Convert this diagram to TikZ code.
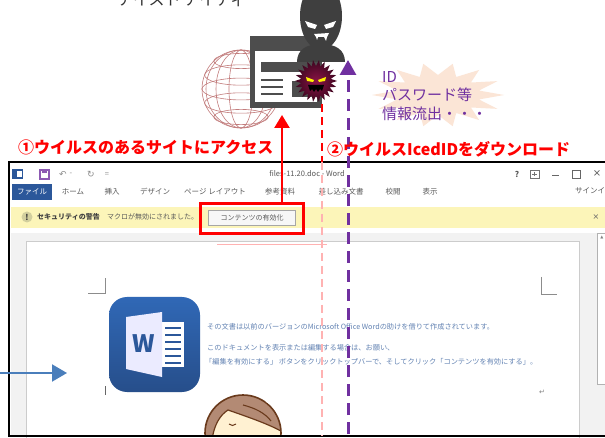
\documentclass[tikz,border=0pt]{standalone}
\usepackage{fontspec}
\setmainfont{Noto Sans CJK JP}
\newfontfamily\symfont{DejaVu Sans}
\usetikzlibrary{arrows.meta}

\definecolor{alertred}{HTML}{FF0000}
\definecolor{leakpurple}{HTML}{7030A0}
\definecolor{framegray}{HTML}{4D4D4D}
\definecolor{hackgray}{HTML}{3F3F3F}
\definecolor{globered}{HTML}{C27C7C}
\definecolor{burst}{HTML}{FBE5D6}
\definecolor{wordblue}{HTML}{2B579A}
\definecolor{wordtop}{HTML}{3068B6}
\definecolor{docblue}{HTML}{6383B3}
\definecolor{barpale}{HTML}{FCF5B9}
\definecolor{hair}{HTML}{B38A74}
\definecolor{skin}{HTML}{FFF1D2}
\definecolor{lineart}{HTML}{6A3A1C}
\definecolor{pointer}{HTML}{4A7EBB}
\definecolor{virus}{HTML}{3E0620}
\definecolor{virusmid}{HTML}{8A1446}

\begin{document}
\begin{tikzpicture}[x=1pt, y=-1pt,
  steptext/.style={font=\fontsize{16}{18}\selectfont\bfseries, text=alertred, inner sep=0pt, anchor=west},
  uitext/.style={font=\fontsize{7.5}{9}\selectfont, text=black!65, inner sep=0pt},
  doctext/.style={font=\fontsize{7.2}{8}\selectfont, text=docblue, inner sep=0pt, anchor=west},
  accessline/.style={alertred, line width=2.5pt, -{Triangle[width=15pt,length=13pt]}},
  dlline/.style={alertred, line width=2.2pt, dash pattern=on 8pt off 5pt},
  dlfaint/.style={dlline, draw=red!30},
  leakline/.style={leakpurple, line width=3pt, dash pattern=on 12pt off 7pt, -{Triangle[width=16pt,length=15pt]}},
  globeline/.style={globered, line width=0.6pt},
]

\useasboundingbox (0,0) rectangle (605,438);
\fill[white] (0,0) rectangle (605,438);

% company name, cut by the top edge
\node[font=\fontsize{16}{18}\selectfont, text=black!80, anchor=base, inner sep=0pt] (corp) at (182,6) {アイスト アイティ};

% ---- Word window ----
\fill[barpale] (11,207) rectangle (605,228);
\fill[black!5] (11,233) rectangle (605,436);
\fill[white] (26,241) rectangle (579,440);
\draw[black!20] (26,440) -- (26,241) -- (579,241) -- (579,440);
\draw[black!30, fill=white] (597,233) rectangle (610,384);
\node[font=\symfont\fontsize{4}{4}\selectfont, text=black!50] (scrollup) at (602,237) {▲};

% title bar
\fill[wordblue] (12,169) rectangle (23,179);
\fill[white] (17,171) rectangle (22,177);
\draw[leakpurple!80, line width=1.2pt] (40,170) rectangle (49,179);
\fill[leakpurple!80] (42,170) rectangle (47,173);
\node[font=\symfont\fontsize{9}{9}\selectfont, text=black!45] (undo) at (63,174) {↶};
\node[uitext, text=black!45] (undomenu) at (71,174) {-};
\node[font=\symfont\fontsize{9}{9}\selectfont, text=black!45] (redo) at (91,174) {↻};
\node[uitext, text=black!45] (qat) at (107,175) {=};
\node[uitext] (title) at (307,174) {files-11.20.doc - Word};
\node[uitext, font=\fontsize{8}{9}\selectfont\bfseries] (help) at (517,174) {?};
\draw[black!55, line width=0.6pt] (530,170) rectangle (539,178);
\draw[black!55, line width=0.6pt] (532,174) -- (537,174) (534.5,172) -- (534.5,176);
\draw[black!60, line width=0.8pt] (552,175) -- (559,175);
\draw[black!60, line width=0.8pt] (572,170) rectangle (580,178);
\node[font=\symfont\fontsize{10}{10}\selectfont, text=black!65] (close) at (597,174) {×};

% ribbon tabs
\node[fill=wordblue, text=white, font=\fontsize{7.5}{9}\selectfont, minimum width=40, minimum height=16, inner sep=0pt] (filetab) at (32,192) {ファイル};
\foreach \x/\t in {73/ホーム, 112/挿入, 155/デザイン, 215/ページ レイアウト, 280/参考資料, 341/差し込み文書, 393/校閲, 430/表示}
  \node[uitext] (tab-\x) at (\x,192) {\t};
\node[uitext, anchor=west] (signin) at (575,191) {サインイン};

% security warning bar
\node[circle, fill=yellow!55!black!45, text=black!80, minimum size=11, inner sep=0pt, font=\fontsize{8}{8}\selectfont\bfseries] (warn) at (27,217) {!};
\node[uitext, anchor=west, font=\fontsize{7}{8}\selectfont\bfseries, text=black!75] (warntitle) at (37,217) {セキュリティの警告};
\node[uitext, anchor=west, font=\fontsize{7}{8}\selectfont] (warnmsg) at (107,217) {マクロが無効にされました。};
\node[draw=black!35, fill=black!3, uitext, font=\fontsize{7}{8}\selectfont, minimum width=87, minimum height=15] (button) at (252,218) {コンテンツの有効化};
\node[font=\symfont\fontsize{8}{8}\selectfont, text=black!60] (barclose) at (596,217) {×};

% page marks
\draw[black!45, line width=0.7pt] (88,293) -- (105,293) -- (105,278);
\draw[black!45, line width=0.7pt] (541,277) -- (541,294) -- (557,294);
\draw[black!60, line width=0.9pt] (105,386) -- (105,395);
\node[font=\symfont\fontsize{7}{7}\selectfont, text=black!50] (ret) at (542,392) {↵};

% Word app icon
\shade[top color=wordtop, bottom color=wordblue!90!black, rounded corners=18pt] (109,297) rectangle (200,392);
\fill[white] (162,322) rectangle (184,367);
\foreach \y in {328,335,342,349,356,363}
  \draw[wordblue, line width=2.4pt] (165,\y) -- (181,\y);
\fill[white!92!blue] (126,317) -- (162,312) -- (162,377) -- (126,369) -- cycle;
\node[font=\fontsize{24}{24}\selectfont\bfseries, text=wordblue, inner sep=0pt] (wletter) at (144,344) {W};

% document body text
\node[doctext] (doc1) at (207,327) {その文書は以前のバージョンのMicrosoft Office Wordの助けを借りて作成されています。};
\node[doctext] (doc2) at (207,348) {このドキュメントを表示または編集する場合は、お願い、};
\node[doctext] (doc3) at (205,362) {「編集を有効にする」 ボタンをクリックトップバーで、そしてクリック「コンテンツを有効にする」。};

% user at the bottom
\begin{scope}
  \clip (0,0) rectangle (605,436);
  \fill[hair] (243,433) circle[radius=38];
  \fill[skin] (212,440) .. controls (214,425) and (220,415) .. (228,410)
    .. controls (245,416) and (266,423) .. (281,431) -- (283,440) -- cycle;
  \draw[lineart, line width=1.2pt] (212,440) .. controls (214,425) and (220,415) .. (228,410)
    .. controls (245,416) and (266,423) .. (281,431);
  \draw[lineart, line width=1.6pt] (243,433) circle[radius=38];
  \draw[lineart, line width=1pt] (229,424) .. controls (231,426) and (234,426) .. (236,424);
  \draw[lineart, line width=1.1pt] (243,405) .. controls (255,408) and (265,413) .. (271,421);
  \draw[white, line width=1.5pt] (266,401) .. controls (272,404) and (276,409) .. (278,414);
\end{scope}

% window frame
\draw[line width=2.7pt] (9,162) rectangle (615,436);

% pointer into the document
\coordinate (ptrstart) at (0,373);
\coordinate (ptrtip) at (67,373);
\draw[pointer, line width=2pt, -{Triangle[width=17pt,length=15pt]}] (ptrstart) -- (ptrtip);

% ---- attacker side ----
\begin{scope}[globeline]
  \draw (241,89) circle[radius=39];
  \foreach \dy in {-28,-14,0,14,28} {
    \pgfmathsetmacro\w{sqrt(39*39-\dy*\dy)}
    \draw (241,{89+\dy}) ellipse[x radius=\w, y radius=0.28*\w];
  }
  \foreach \w in {12,25,35}
    \draw (241,89) ellipse[x radius=\w, y radius=39];
\end{scope}

% malicious site
\fill[framegray] (250,36) rectangle (322,108);
\fill[white] (255,51) rectangle (317,102);
\fill[framegray] (261,62) rectangle (318,72);
\foreach \y in {80,87,94}
  \draw[framegray, line width=2.5pt] (261,\y) -- (283,\y);
\fill[framegray] (292,81) rectangle (318,97);

% attacker
\fill[hackgray] (321,16) ellipse[x radius=21, y radius=34];
\fill[hackgray] (297,62) .. controls (297,50) and (306,44) .. (321,44)
  .. controls (336,44) and (345,50) .. (345,62) -- cycle;
\fill[white] (305,21) -- (317,25) -- (315,29) -- (308,27) -- cycle;
\fill[white] (336,21) -- (324,25) -- (326,29) -- (333,27) -- cycle;
\fill[white] (314,34) -- (329,33) -- (327,37) -- (326,41) -- (324,37)
  -- (318,37) -- (317,40) -- (316,37) -- cycle;

% virus
\begin{scope}[shift={(316,81)}]
  \shade[inner color=virusmid, outer color=virus] (0:21)
    \foreach \k [evaluate=\k as \r using {isodd(\k) ? 15 : 21}] in {1,...,43}
      { -- ({\k*360/44}:{\r}) } -- cycle;
  \fill[yellow] (-10,-4) -- (-2,-1) -- (-3,1) -- (-9,0) -- cycle;
  \fill[yellow] (10,-4) -- (2,-1) -- (3,1) -- (9,0) -- cycle;
  \fill[black] (-8,4) -- (8,4) -- (6,10) -- (4,8) -- (2,11) -- (0,8)
    -- (-2,11) -- (-4,8) -- (-6,10) -- cycle;
\end{scope}

% leaked data burst
\begin{scope}[shift={(438,95)}]
  \fill[burst] (0:66 and 32)
    \foreach \k [evaluate=\k as \rx using {isodd(\k) ? 42 : 66},
                 evaluate=\k as \ry using {isodd(\k) ? 20 : 32}] in {1,...,27}
      { -- ({\k*360/28}:{\rx} and {\ry}) } -- cycle;
\end{scope}
\node[font=\fontsize{15}{18.5}\selectfont, text=leakpurple, align=left, anchor=west, inner sep=0pt] (leak) at (382,96) {ID\\パスワード等\\情報流出・・・};

% ---- connectors ----
\node[draw=alertred, line width=2.6pt, minimum width=103, minimum height=30, inner sep=0pt] (enable) at (252,218.5) {};
\coordinate (sitein) at (282,115);
\draw[accessline] (enable.north -| sitein) -- (sitein);

\coordinate (dltop) at (322,104);
\coordinate (dlwin) at (322,162);
\coordinate (dlend) at (322,436);
\draw[dlline] (dltop) -- (dlwin);
\draw[dlfaint] (dlwin) -- (dlend);
\draw[red!30, line width=0.6pt] (217,244) -- (327,244);

\coordinate (leakbase) at (348,434);
\coordinate (leaktip) at (348,60);
\draw[leakline] (leakbase) -- (leaktip);

\node[steptext] (step1) at (18,147) {①ウイルスのあるサイトにアクセス};
\node[steptext] (step2) at (327,149) {②ウイルスIcedIDをダウンロード};

\end{tikzpicture}
\end{document}
